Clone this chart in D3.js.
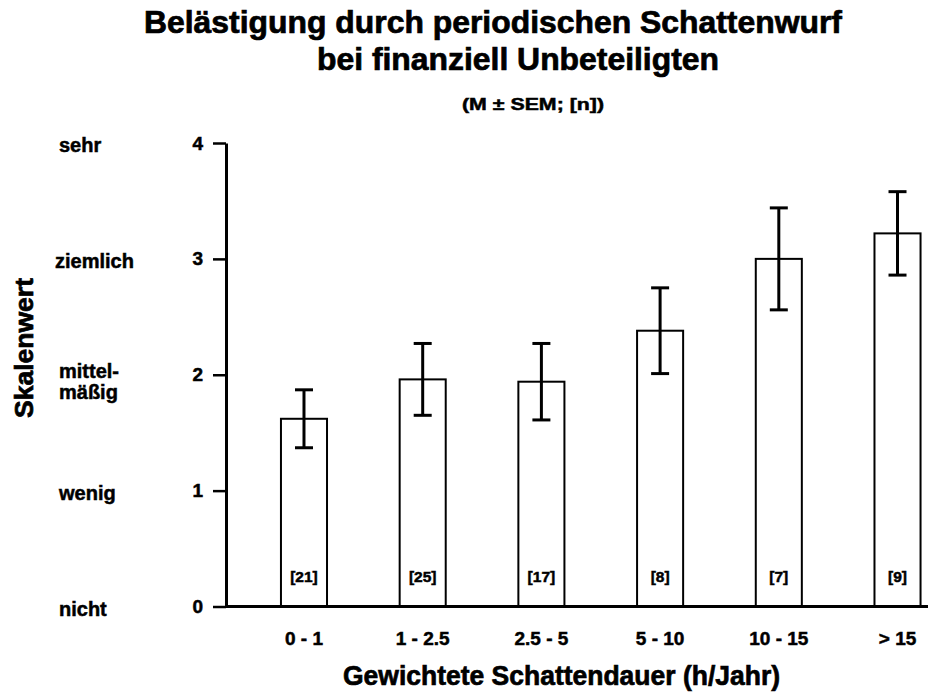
<!DOCTYPE html>
<html>
<head>
<meta charset="utf-8">
<script src="https://cdn.jsdelivr.net/npm/d3@7"></script>
<style>
  body { margin: 0; background: #fff; }
  text { font-family: "Liberation Sans", Arial, Helvetica, sans-serif; font-weight: bold; fill: #000; stroke: #000; stroke-width: 0.5px; }
  text.big { stroke-width: 0.7px; }
</style>
</head>
<body>
<svg></svg>
<script>
// data
var categories = ["0 - 1", "1 - 2.5", "2.5 - 5", "5 - 10", "10 - 15", "> 15"];
var means = [1.62, 1.96, 1.94, 2.38, 3.00, 3.22];
var sems = [0.25, 0.31, 0.33, 0.37, 0.44, 0.36];
var counts = [21, 25, 17, 8, 7, 9];
var tickValues = [0, 1, 2, 3, 4];
var scaleLabels = [["nicht"], ["wenig"], ["mittel-", "mäßig"], ["ziemlich"], ["sehr"]];

var screen = { width: 928, height: 696 };

var svg = d3.select('svg')
            .attr('width', screen.width)
            .attr('height', screen.height);

var xScale = d3.scaleBand()
               .domain(categories)
               .range([226, 975.5])
               .paddingInner(0.612)
               .paddingOuter(0.463);
var yScale = d3.scaleLinear()
               .domain([0, 4])
               .range([606.5, 143]);

var rows = categories.map(function(c, i) {
  return { cat: c, mean: means[i], sem: sems[i], n: counts[i] };
});

// titles
svg.append('text').classed('big', true)
   .attr('x', 144).attr('y', 33)
   .attr('font-size', 30.5)
   .attr('textLength', 698).attr('lengthAdjust', 'spacingAndGlyphs')
   .text('Belästigung durch periodischen Schattenwurf');
svg.append('text').classed('big', true)
   .attr('x', 317).attr('y', 70)
   .attr('font-size', 30.5)
   .attr('textLength', 402).attr('lengthAdjust', 'spacingAndGlyphs')
   .text('bei finanziell Unbeteiligten');
svg.append('text')
   .attr('x', 462).attr('y', 110)
   .attr('font-size', 17)
   .attr('textLength', 142).attr('lengthAdjust', 'spacingAndGlyphs')
   .text('(M ± SEM; [n])');

// bars
svg.append('g').selectAll('rect')
   .data(rows)
   .enter()
   .append('rect')
   .attr('x', function(d) { return xScale(d.cat); })
   .attr('y', function(d) { return yScale(d.mean); })
   .attr('width', xScale.bandwidth())
   .attr('height', function(d) { return yScale(0) - yScale(d.mean); })
   .attr('fill', 'white')
   .attr('stroke', 'black')
   .attr('stroke-width', 2);

// error bars
var errs = svg.append('g').selectAll('g')
              .data(rows)
              .enter()
              .append('g')
              .attr('stroke', 'black')
              .attr('stroke-width', 3);
var cx = function(d) { return xScale(d.cat) + xScale.bandwidth() / 2; };
errs.append('line')
    .attr('x1', cx).attr('x2', cx)
    .attr('y1', function(d) { return yScale(d.mean - d.sem); })
    .attr('y2', function(d) { return yScale(d.mean + d.sem); });
errs.append('line')
    .attr('x1', function(d) { return cx(d) - 9; })
    .attr('x2', function(d) { return cx(d) + 9; })
    .attr('y1', function(d) { return yScale(d.mean + d.sem); })
    .attr('y2', function(d) { return yScale(d.mean + d.sem); });
errs.append('line')
    .attr('x1', function(d) { return cx(d) - 9; })
    .attr('x2', function(d) { return cx(d) + 9; })
    .attr('y1', function(d) { return yScale(d.mean - d.sem); })
    .attr('y2', function(d) { return yScale(d.mean - d.sem); });

// n labels
svg.append('g').selectAll('text')
   .data(rows)
   .enter()
   .append('text')
   .attr('x', cx)
   .attr('y', 582)
   .attr('text-anchor', 'middle')
   .attr('font-size', 15.5)
   .text(function(d) { return '[' + d.n + ']'; });

// y axis
var yAxis = d3.axisLeft(yScale)
              .tickValues(tickValues)
              .tickSize(13)
              .tickSizeOuter(0)
              .tickPadding(10)
              .tickFormat(d3.format('d'));
var yA = svg.append('g').classed('yAxis', true)
            .attr('transform', 'translate(226,0)')
            .call(yAxis);
yA.attr('font-family', null);
yA.select('.domain').attr('stroke-width', 3);
yA.selectAll('.tick line').attr('stroke-width', 2.5);
yA.selectAll('.tick text')
  .attr('font-size', 19)
  .attr('fill', null);

// x axis
var xAxis = d3.axisBottom(xScale).tickSize(0).tickPadding(25);
var xA = svg.append('g').classed('xAxis', true)
            .attr('transform', 'translate(0,' + yScale(0) + ')')
            .call(xAxis);
xA.attr('font-family', null);
xA.select('.domain').remove();
xA.selectAll('.tick text')
  .attr('font-size', 19)
  .attr('fill', null);
svg.append('line')
   .attr('x1', 225).attr('x2', 928)
   .attr('y1', yScale(0)).attr('y2', yScale(0))
   .attr('stroke', 'black')
   .attr('stroke-width', 3);

// verbal scale labels
var lab = svg.append('g').selectAll('text')
             .data(tickValues)
             .enter()
             .append('text')
             .attr('x', 58)
             .attr('y', function(d) {
               return yScale(d) + (scaleLabels[d].length > 1 ? 3 : 9);
             })
             .attr('font-size', 20);
lab.selectAll('tspan')
   .data(function(d) { return scaleLabels[d]; })
   .enter()
   .append('tspan')
   .attr('x', function(d) { return d === 'ziemlich' ? 55 : 59; })
   .attr('dy', function(d, i) { return i === 0 ? 0 : 21; })
   .text(function(d) { return d; });

// axis titles
svg.append('text').classed('big', true)
   .attr('transform', 'translate(33,418) rotate(-90)')
   .attr('font-size', 26)
   .attr('textLength', 140).attr('lengthAdjust', 'spacingAndGlyphs')
   .text('Skalenwert');
svg.append('text').classed('big', true)
   .attr('x', 343).attr('y', 685)
   .attr('font-size', 28)
   .attr('textLength', 437).attr('lengthAdjust', 'spacingAndGlyphs')
   .text('Gewichtete Schattendauer (h/Jahr)');
</script>
</body>
</html>
